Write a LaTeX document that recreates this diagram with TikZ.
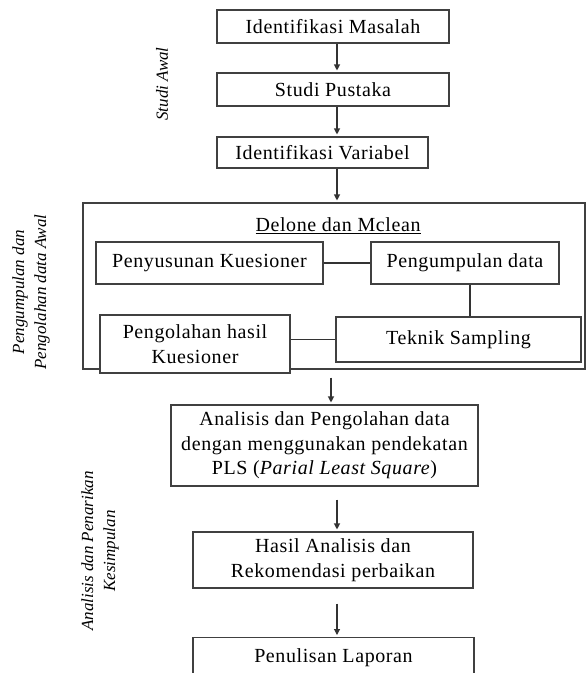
\documentclass[tikz,border=0pt]{standalone}
\usepackage{fontspec}
\setmainfont{Liberation Serif}
\usetikzlibrary{arrows.meta}

\begin{document}
\begin{tikzpicture}[x=1pt, y=-1pt,
		kotak/.style={draw=black!75, line width=1.1pt, fill=white, inner sep=0pt, align=center, font=\fontsize{20}{24.5}\selectfont\addfontfeatures{LetterSpace=3}},
		garis/.style={draw=black!80, line width=1.1pt},
		panah/.style={garis, shorten >=2pt, -{Triangle[width=6pt, length=6pt]}},
		tahap/.style={rotate=90, align=center, font=\fontsize{17}{22}\selectfont\itshape}]
		\useasboundingbox (0, 0) rectangle (586, 673);
		\clip (0, 0) rectangle (586, 673);
		
		\node[kotak, minimum width=232, minimum height=33] (masalah) at (333, 26.5) {Identifikasi Masalah};
		\node[kotak, minimum width=232, minimum height=33] (pustaka) at (333, 89.5) {Studi Pustaka};
		\node[kotak, minimum width=211, minimum height=31] (variabel) at (322.5, 152.5) {Identifikasi Variabel};
		
		\node[kotak, minimum width=502, minimum height=166] (frame) at (334, 286) {};
		\node[font=\fontsize{20}{24.5}\selectfont\addfontfeatures{LetterSpace=3}] (delone) at (338, 226) {\underline{Delone dan Mclean}};
		\node[kotak, minimum width=227, minimum height=42] (penyusunan) at (209.5, 263) {Penyusunan Kuesioner};
		\node[kotak, minimum width=188, minimum height=42] (pengumpulan) at (465, 263) {Pengumpulan data};
		\node[kotak, minimum width=245, minimum height=45] (teknik) at (458.5, 339.5) {Teknik Sampling};
		\node[kotak, minimum width=190, minimum height=58] (pengolahan) at (195, 344) {Pengolahan hasil\\Kuesioner};
		
		\node[kotak, minimum width=307, minimum height=81] (analisis) at (324.5, 445.5) {Analisis dan Pengolahan data\\dengan menggunakan pendekatan\\PLS (\textit{Parial Least Square})};
		\node[kotak, minimum width=280, minimum height=56] (hasil) at (333, 560) {Hasil Analisis dan\\Rekomendasi perbaikan};
		\node[kotak, minimum width=281, minimum height=40, anchor=north] (penulisan) at (333.5, 637) {Penulisan Laporan};
		
		\node[tahap] (studi) at (162, 84) {Studi Awal};
		\node[tahap] (kumpul) at (31, 292) {Pengumpulan dan\\Pengolahan data Awal};
		\node[tahap] (tarik) at (100, 551) {Analisis dan Penarikan\\Kesimpulan};
		
		\coordinate (kolom) at (337, 0);
		\coordinate (kolom2) at (331, 0);
		\coordinate (sambung) at (470, 0);
		
		\draw[panah] (masalah.south -| kolom) -- (pustaka.north -| kolom);
		\draw[panah] (pustaka.south -| kolom) -- (variabel.north -| kolom);
		\draw[panah] (variabel.south -| kolom) -- (frame.north -| kolom);
		\draw[panah] (frame.south -| kolom2) ++(0, 8) -- (analisis.north -| kolom2);
		\draw[panah] (analisis.south -| kolom) ++(0, 13) -- (hasil.north -| kolom);
		\draw[panah] (hasil.south -| kolom) ++(0, 15) -- (penulisan.north -| kolom);
		
		\draw[garis] (penyusunan) -- (pengumpulan);
		\draw[garis] (pengumpulan.south -| sambung) -- (teknik.north -| sambung);
		\draw[garis] (pengolahan.east |- teknik.west) -- (teknik.west);
	\end{tikzpicture}
\end{document}
